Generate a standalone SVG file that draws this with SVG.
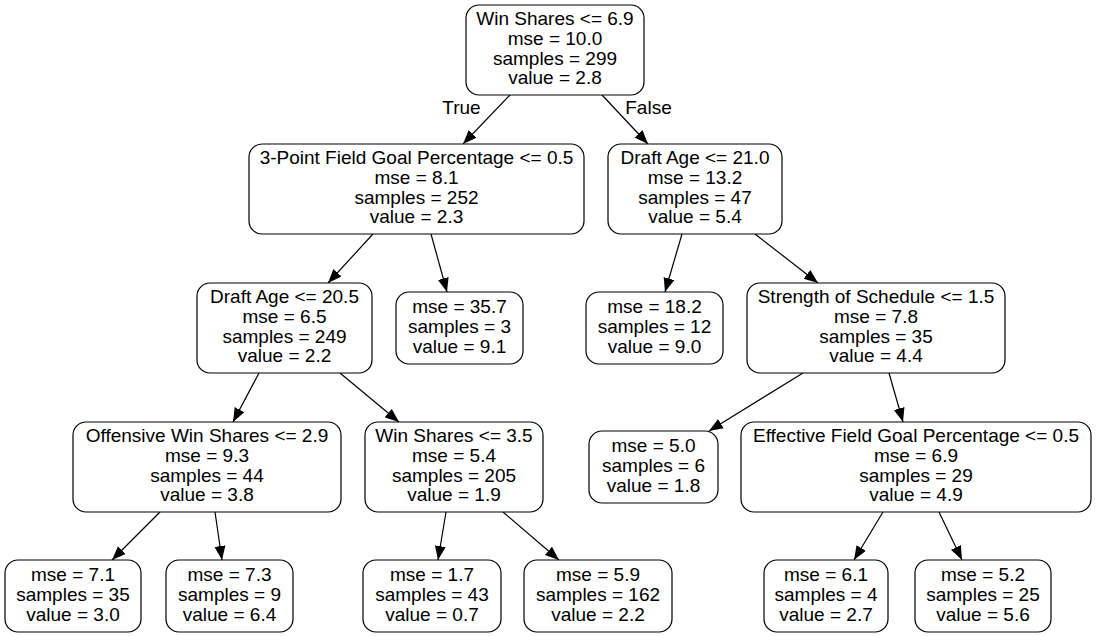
<svg xmlns="http://www.w3.org/2000/svg" width="1096" height="636" viewBox="0 0 1096 636">
<style>
  .box { fill: #ffffff; stroke: #000000; stroke-width: 1.2; }
  text { font-family: "Liberation Sans", Arial, sans-serif; font-size: 19px; fill: #000000; text-anchor: middle; }
  .edge { stroke: #000000; stroke-width: 1.2; fill: none; marker-end: url(#ah); }
</style>
<defs>
  <marker id="ah" markerUnits="userSpaceOnUse" markerWidth="15" markerHeight="12" refX="14" refY="5.5" orient="auto">
    <path d="M0,0 L14,5.5 L0,11 z" fill="#000000"/>
  </marker>
</defs>
<rect width="1096" height="636" fill="#ffffff"/>

<g id="connectors">
  <line class="edge" x1="510" y1="95" x2="463" y2="144"/>
  <line class="edge" x1="602" y1="95" x2="648" y2="144"/>
  <line class="edge" x1="373" y1="234" x2="328" y2="283"/>
  <line class="edge" x1="431" y1="234" x2="447" y2="292"/>
  <line class="edge" x1="682" y1="234" x2="665" y2="292"/>
  <line class="edge" x1="755" y1="234" x2="818" y2="283"/>
  <line class="edge" x1="259" y1="373" x2="233" y2="422"/>
  <line class="edge" x1="340" y1="373" x2="399" y2="422"/>
  <line class="edge" x1="803" y1="373" x2="709" y2="431"/>
  <line class="edge" x1="889" y1="373" x2="903" y2="422"/>
  <line class="edge" x1="160" y1="512" x2="112" y2="560"/>
  <line class="edge" x1="215" y1="512" x2="222" y2="560"/>
  <line class="edge" x1="446" y1="512" x2="438" y2="560"/>
  <line class="edge" x1="503" y1="512" x2="559" y2="560"/>
  <line class="edge" x1="883" y1="512" x2="854" y2="560"/>
  <line class="edge" x1="939" y1="512" x2="962" y2="560"/>
  <text x="461.5" y="113.5">True</text>
  <text x="648.5" y="113.5">False</text>
</g>

<g id="n0">
  <rect class="box" x="466" y="5" width="178" height="90" rx="13"/>
  <text x="555" y="25">Win Shares &lt;= 6.9</text>
  <text x="555" y="44.8">mse = 10.0</text>
  <text x="555" y="64.6">samples = 299</text>
  <text x="555" y="84.4">value = 2.8</text>
</g>
<g id="n1">
  <rect class="box" x="249" y="144" width="335" height="90" rx="13"/>
  <text x="416.5" y="164">3-Point Field Goal Percentage &lt;= 0.5</text>
  <text x="416.5" y="183.8">mse = 8.1</text>
  <text x="416.5" y="203.6">samples = 252</text>
  <text x="416.5" y="223.4">value = 2.3</text>
</g>
<g id="n2">
  <rect class="box" x="608" y="144" width="174" height="90" rx="13"/>
  <text x="695" y="164">Draft Age &lt;= 21.0</text>
  <text x="695" y="183.8">mse = 13.2</text>
  <text x="695" y="203.6">samples = 47</text>
  <text x="695" y="223.4">value = 5.4</text>
</g>
<g id="n3">
  <rect class="box" x="197" y="283" width="175" height="90" rx="13"/>
  <text x="284.5" y="303">Draft Age &lt;= 20.5</text>
  <text x="284.5" y="322.8">mse = 6.5</text>
  <text x="284.5" y="342.6">samples = 249</text>
  <text x="284.5" y="362.4">value = 2.2</text>
</g>
<g id="n4">
  <rect class="box" x="396" y="292" width="127" height="72" rx="13"/>
  <text x="459.5" y="312.5">mse = 35.7</text>
  <text x="459.5" y="332.5">samples = 3</text>
  <text x="459.5" y="352.5">value = 9.1</text>
</g>
<g id="n5">
  <rect class="box" x="586" y="292" width="137" height="72" rx="13"/>
  <text x="654.5" y="312.5">mse = 18.2</text>
  <text x="654.5" y="332.5">samples = 12</text>
  <text x="654.5" y="352.5">value = 9.0</text>
</g>
<g id="n6">
  <rect class="box" x="747" y="283" width="258" height="90" rx="13"/>
  <text x="876" y="303">Strength of Schedule &lt;= 1.5</text>
  <text x="876" y="322.8">mse = 7.8</text>
  <text x="876" y="342.6">samples = 35</text>
  <text x="876" y="362.4">value = 4.4</text>
</g>
<g id="n7">
  <rect class="box" x="73" y="422" width="268" height="90" rx="13"/>
  <text x="207" y="442">Offensive Win Shares &lt;= 2.9</text>
  <text x="207" y="461.8">mse = 9.3</text>
  <text x="207" y="481.6">samples = 44</text>
  <text x="207" y="501.4">value = 3.8</text>
</g>
<g id="n8">
  <rect class="box" x="365" y="422" width="178" height="90" rx="13"/>
  <text x="454" y="442">Win Shares &lt;= 3.5</text>
  <text x="454" y="461.8">mse = 5.4</text>
  <text x="454" y="481.6">samples = 205</text>
  <text x="454" y="501.4">value = 1.9</text>
</g>
<g id="n9">
  <rect class="box" x="589" y="431" width="129" height="72" rx="13"/>
  <text x="653.5" y="451.5">mse = 5.0</text>
  <text x="653.5" y="471.5">samples = 6</text>
  <text x="653.5" y="491.5">value = 1.8</text>
</g>
<g id="n10">
  <rect class="box" x="741" y="422" width="350" height="90" rx="13"/>
  <text x="916" y="442">Effective Field Goal Percentage &lt;= 0.5</text>
  <text x="916" y="461.8">mse = 6.9</text>
  <text x="916" y="481.6">samples = 29</text>
  <text x="916" y="501.4">value = 4.9</text>
</g>
<g id="n11">
  <rect class="box" x="5" y="560" width="136" height="72" rx="13"/>
  <text x="73" y="580.5">mse = 7.1</text>
  <text x="73" y="600.5">samples = 35</text>
  <text x="73" y="620.5">value = 3.0</text>
</g>
<g id="n12">
  <rect class="box" x="166" y="560" width="127" height="72" rx="13"/>
  <text x="229.5" y="580.5">mse = 7.3</text>
  <text x="229.5" y="600.5">samples = 9</text>
  <text x="229.5" y="620.5">value = 6.4</text>
</g>
<g id="n13">
  <rect class="box" x="363" y="560" width="138" height="72" rx="13"/>
  <text x="432" y="580.5">mse = 1.7</text>
  <text x="432" y="600.5">samples = 43</text>
  <text x="432" y="620.5">value = 0.7</text>
</g>
<g id="n14">
  <rect class="box" x="524" y="560" width="148" height="72" rx="13"/>
  <text x="598" y="580.5">mse = 5.9</text>
  <text x="598" y="600.5">samples = 162</text>
  <text x="598" y="620.5">value = 2.2</text>
</g>
<g id="n15">
  <rect class="box" x="764" y="560" width="124" height="72" rx="13"/>
  <text x="826" y="580.5">mse = 6.1</text>
  <text x="826" y="600.5">samples = 4</text>
  <text x="826" y="620.5">value = 2.7</text>
</g>
<g id="n16">
  <rect class="box" x="915" y="560" width="136" height="72" rx="13"/>
  <text x="983" y="580.5">mse = 5.2</text>
  <text x="983" y="600.5">samples = 25</text>
  <text x="983" y="620.5">value = 5.6</text>
</g>
</svg>
